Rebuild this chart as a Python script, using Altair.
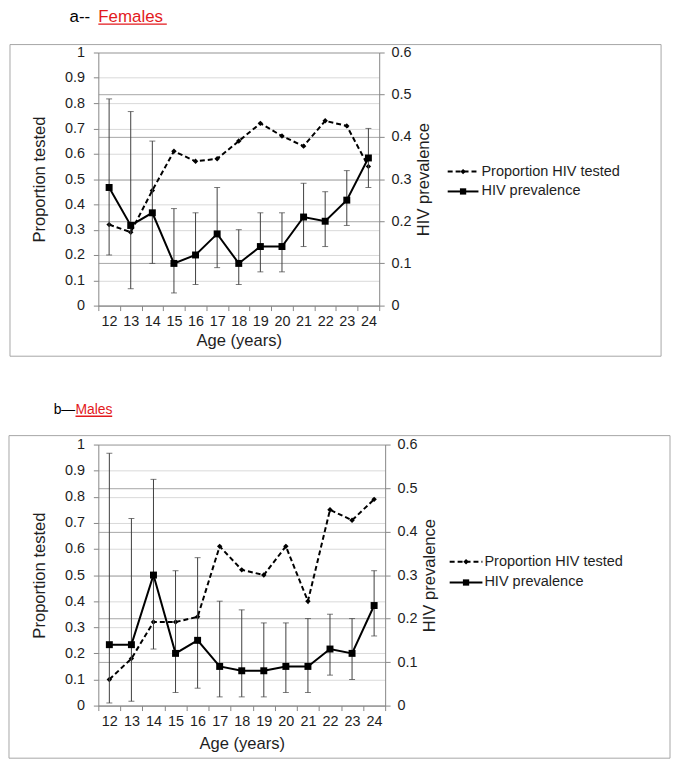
import altair as alt
import pandas as pd

FONT = "Liberation Sans"
TXT = "#1e1e1e"
RED = "#e3191c"
AXC = "#868686"

ages = [12, 13, 14, 15, 16, 17, 18, 19, 20, 21, 22, 23, 24]
series_names = ["Proportion HIV tested", "HIV prevalence"]
left_ticks = [0, 0.1, 0.2, 0.3, 0.4, 0.5, 0.6, 0.7, 0.8, 0.9, 1]
right_ticks = [0, 0.1, 0.2, 0.3, 0.4, 0.5, 0.6]

# a -- Females
f_tested = [0.32, 0.29, 0.455, 0.61, 0.57, 0.58, 0.65, 0.72, 0.67, 0.63, 0.73, 0.71, 0.55]
f_prev = [0.28, 0.19, 0.22, 0.10, 0.12, 0.17, 0.10, 0.14, 0.14, 0.21, 0.20, 0.25, 0.35]
f_lo = [0.12, 0.04, 0.10, 0.03, 0.05, 0.09, 0.05, 0.08, 0.08, 0.14, 0.14, 0.19, 0.28]
f_hi = [0.49, 0.46, 0.39, 0.23, 0.22, 0.28, 0.18, 0.22, 0.22, 0.29, 0.27, 0.32, 0.42]

# b -- Males
m_tested = [0.10, 0.18, 0.32, 0.32, 0.34, 0.61, 0.52, 0.50, 0.61, 0.40, 0.75, 0.71, 0.79]
m_prev = [0.14, 0.14, 0.30, 0.12, 0.15, 0.09, 0.08, 0.08, 0.09, 0.09, 0.13, 0.12, 0.23]
m_lo = [0.006, 0.01, 0.13, 0.03, 0.04, 0.02, 0.02, 0.02, 0.03, 0.03, 0.07, 0.06, 0.16]
m_hi = [0.58, 0.43, 0.52, 0.31, 0.34, 0.24, 0.22, 0.19, 0.19, 0.20, 0.21, 0.20, 0.31]

one = pd.DataFrame({"k": [0]})
LEG_FS = 14.6


def panel(tested, prev, lo, hi, W, H, prefix, name, tcfg, box, leg, xtp):
    df = pd.DataFrame({"age": ages, "tested": tested, "prev": prev, "lo": lo, "hi": hi})
    base = alt.Chart(df)
    xenc = alt.X(
        "age:O",
        bandPosition=0.5,
        scale=alt.Scale(type="band", paddingInner=0, paddingOuter=0),
        axis=alt.Axis(title="Age (years)", labelAngle=0, tickBand="extent", tickSize=5,
                      labelPadding=4, titlePadding=xtp, grid=False, domainColor=AXC,
                      tickColor=AXC),
    )
    left_axis = alt.Axis(title="Proportion tested", values=left_ticks, format="~g", grid=True,
                         gridColor="#d9d9d9", tickSize=5, labelPadding=9, titlePadding=16,
                         domainColor=AXC, tickColor=AXC)
    yl = alt.Y("tested:Q", scale=alt.Scale(domain=[0, 1]), axis=left_axis)
    tested_line = base.mark_line(color="black", strokeWidth=2, strokeDash=[5, 3]).encode(x=xenc, y=yl)
    tested_pts = base.mark_point(shape="diamond", filled=True, color="black", size=30, opacity=1).encode(x=xenc, y=yl)
    left = alt.layer(tested_line, tested_pts)

    right_axis = alt.Axis(orient="right", title="HIV prevalence", values=right_ticks, format="~g",
                          grid=True, gridColor="#a6a6a6", tickSize=5, labelPadding=7,
                          titlePadding=5, titleAngle=270, titleBaseline="top",
                          domainColor=AXC, tickColor=AXC)
    rs = alt.Scale(domain=[0, 0.6])
    rules = base.mark_rule(color="#404040", strokeWidth=1).encode(
        x=xenc, y=alt.Y("lo:Q", scale=rs, axis=right_axis), y2="hi:Q")
    t_lo = base.mark_tick(color="#404040", size=6, thickness=1).encode(
        x=xenc, y=alt.Y("lo:Q", scale=rs, axis=right_axis))
    t_hi = base.mark_tick(color="#404040", size=6, thickness=1).encode(
        x=xenc, y=alt.Y("hi:Q", scale=rs, axis=right_axis))
    prev_line = base.mark_line(color="black", strokeWidth=2).encode(
        x=xenc, y=alt.Y("prev:Q", scale=rs, axis=right_axis))
    prev_pts = base.mark_square(color="black", size=49, opacity=1).encode(
        x=xenc, y=alt.Y("prev:Q", scale=rs, axis=right_axis))
    right = alt.layer(rules, t_lo, t_hi, prev_line, prev_pts)

    main = alt.layer(left, right).resolve_scale(y="independent")

    ob = alt.Chart(one)
    bx = ob.mark_rect(fillOpacity=0, stroke="#a6a6a6", strokeWidth=1).encode(
        x=alt.value(box[0]), x2=alt.value(box[1]), y=alt.value(box[2]), y2=alt.value(box[3]))
    t1 = ob.mark_text(align="left", baseline="alphabetic", font=FONT, fontSize=tcfg["size"], color="black").encode(
        x=alt.value(tcfg["x1"]), y=alt.value(tcfg["y"]), text=alt.value(prefix))
    t2 = ob.mark_text(align="left", baseline="alphabetic", font=FONT, fontSize=tcfg["size"], color=RED).encode(
        x=alt.value(tcfg["x2"]), y=alt.value(tcfg["y"]), text=alt.value(name))
    ul = ob.mark_rule(color=RED, strokeWidth=1.3).encode(
        x=alt.value(tcfg["x2"]), x2=alt.value(tcfg["x2"] + tcfg["w"]), y=alt.value(tcfg["y"] + 2.5))

    lx0, lx1, ly0, ly1, ltx = leg
    lmid = (lx0 + lx1) / 2
    l1 = ob.mark_rule(color="black", strokeWidth=2, strokeDash=[5, 3]).encode(
        x=alt.value(lx0), x2=alt.value(lx1), y=alt.value(ly0))
    l1p = ob.mark_point(shape="diamond", filled=True, color="black", size=30, opacity=1).encode(
        x=alt.value(lmid), y=alt.value(ly0))
    l1t = ob.mark_text(align="left", baseline="middle", font=FONT, fontSize=LEG_FS, color=TXT).encode(
        x=alt.value(ltx), y=alt.value(ly0), text=alt.value(series_names[0]))
    l2 = ob.mark_rule(color="black", strokeWidth=2).encode(
        x=alt.value(lx0), x2=alt.value(lx1), y=alt.value(ly1))
    l2p = ob.mark_square(color="black", size=40, opacity=1).encode(
        x=alt.value(lmid), y=alt.value(ly1))
    l2t = ob.mark_text(align="left", baseline="middle", font=FONT, fontSize=LEG_FS, color=TXT).encode(
        x=alt.value(ltx), y=alt.value(ly1), text=alt.value(series_names[1]))

    return alt.layer(bx, t1, t2, ul, main, l1, l1p, l1t, l2, l2p, l2t).properties(width=W, height=H)


top = panel(f_tested, f_prev, f_lo, f_hi, 283, 255, "a--", "Females",
            {"size": 17, "x1": -29, "x2": 0, "y": -31, "w": 69},
            (-89, 567, -8, 306), (352, 383, 120, 140, 386), 5)
bottom = panel(m_tested, m_prev, m_lo, m_hi, 289, 263, "b\u2014", "Males",
               {"size": 14, "x1": -45, "x2": -23, "y": -31, "w": 37},
               (-90, 576, -9, 316), (354, 387, 118, 139, 389), 8)

chart = alt.vconcat(top, bottom, spacing=46).properties(
    padding={"top": -3, "left": 0, "right": 0, "bottom": 0}
).configure_view(
    stroke=None
).configure_axis(
    labelFont=FONT, titleFont=FONT, labelFontSize=14.5, titleFontSize=16.7,
    labelColor=TXT, titleColor=TXT, titleFontWeight="normal"
)

chart.save("out.html", embed_options={"renderer": "svg", "actions": False})
